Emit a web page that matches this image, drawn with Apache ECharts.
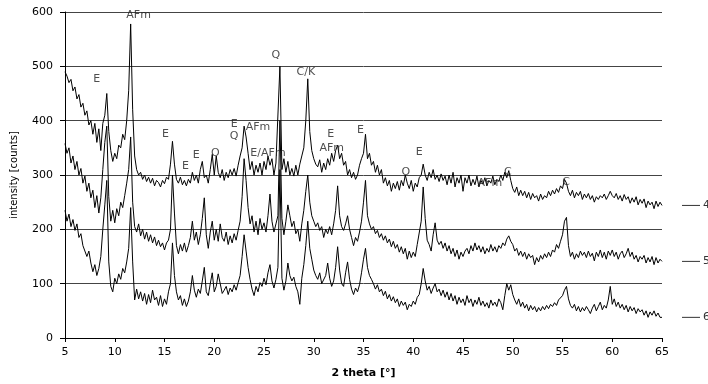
<!DOCTYPE html>
<html>
<head>
<meta charset="utf-8">
<script src="https://cdn.jsdelivr.net/npm/echarts@6/dist/echarts.min.js"></script>
<style>
  html, body { margin: 0; padding: 0; background: #fff; }
  #chart { width: 708px; height: 384px; }
</style>
</head>
<body>
<div id="chart"></div>
<script>
// measured in 0.2 degree steps from 5 to 65 (2 theta)
const stepStart = 5;
const stepSize = 0.2;

// sample 4 (top trace)
const sample4 = [
  490, 482, 470, 476, 455, 462, 440, 448, 425, 432,
  410, 418, 392, 400, 375, 395, 360, 385, 345, 395,
  410, 450, 380, 345, 325, 340, 330, 355, 350, 375,
  365, 400, 455, 578, 420, 335, 310, 300, 305, 292,
  300, 288, 296, 285, 294, 280, 290, 286, 278, 290,
  284, 296, 292, 320, 362, 320, 292, 285, 296, 282,
  290, 280, 292, 285, 305, 290, 300, 285, 310, 325,
  295, 300, 285, 310, 338, 300, 335, 305, 295, 310,
  290, 305, 295, 310, 300, 312, 298, 318, 335, 350,
  390, 370, 340, 310, 325, 300, 318, 305, 322, 300,
  325, 310, 335, 318, 330, 300, 322, 320, 500, 310,
  330, 305, 325, 300, 312, 298, 318, 300, 320, 335,
  350, 400, 477, 380, 345, 330, 320, 315, 328, 305,
  322, 310, 330, 318, 340, 325, 345, 355, 330, 340,
  318, 325, 300, 310, 295, 305, 292, 300, 318, 330,
  340, 375, 330, 340, 318, 325, 305, 318, 300, 310,
  285, 295, 280, 290, 270, 285, 275, 288, 272, 290,
  280, 300, 285, 275, 290, 270, 285, 278, 295, 300,
  320, 300, 290, 305, 295, 310, 292, 300, 288, 302,
  290, 298, 282, 300, 285, 305, 278, 295, 285, 300,
  270, 295, 285, 300, 280, 292, 282, 298, 278, 290,
  283, 295, 280, 290, 285, 298, 282, 292, 288, 300,
  290, 305, 295, 308, 290, 275, 268, 278, 262, 272,
  262, 270, 258, 268, 255, 266, 258, 262, 252, 265,
  255, 262, 258, 270, 262, 272, 265, 275, 268, 280,
  275, 292, 285, 270, 262, 272, 258, 268, 262, 270,
  255, 265, 258, 266, 255, 262, 250, 260, 255, 262,
  258, 265, 255, 262, 270, 262, 258, 266, 255, 262,
  252, 264, 255, 260, 248, 258, 250, 260, 245, 255,
  248, 256, 240, 252, 245, 250, 238, 252, 242, 250,
  244
];

// sample 5 (middle trace)
const sample5 = [
  358, 340, 350, 322, 335, 310, 325, 300, 312, 285,
  298, 270, 285, 258, 272, 240, 262, 230, 258, 310,
  360, 390, 260, 215, 235, 212, 238, 225, 250, 240,
  262, 285, 310, 370, 250, 205, 195, 210, 188, 200,
  182, 195, 178, 190, 175, 186, 170, 180, 168, 175,
  162, 175, 180, 200, 300, 230, 170, 155, 172, 160,
  175, 158, 170, 185, 215, 180, 195, 172, 190, 220,
  258, 190, 165, 195, 215, 180, 200, 178, 210, 185,
  178, 195, 172, 188, 175, 192, 180, 198, 215, 260,
  330, 290, 240, 210, 225, 195, 215, 190, 220, 200,
  212, 195, 225, 265, 215, 195, 210, 225, 400, 220,
  190, 215, 245, 225, 205, 215, 192, 200, 178, 210,
  235, 270, 300, 250, 225, 215, 205, 212, 198, 205,
  185, 200, 192, 205, 190, 210, 235, 280, 225, 205,
  198, 210, 225, 200, 185, 170, 185, 178, 195, 215,
  250, 290, 225, 210, 200, 205, 192, 198, 185, 192,
  180, 188, 175, 182, 168, 178, 165, 172, 158, 168,
  155, 165, 145, 160, 148, 158, 150, 172, 175, 215,
  278, 220, 180, 172, 160, 190, 212, 180, 172, 178,
  165, 175, 160, 170, 155, 165, 150, 162, 145, 158,
  150, 160, 165, 155, 170, 160, 175, 162, 170, 158,
  168, 155, 165, 158, 172, 160, 168, 158, 170, 165,
  175, 170, 182, 188, 178, 172, 160, 165, 152, 160,
  150, 158, 145, 155, 148, 152, 135, 148, 140, 152,
  145, 155, 148, 158, 150, 162, 158, 172, 165, 178,
  190, 215, 222, 170, 150, 158, 145, 155, 148, 160,
  152, 158, 148, 160, 150, 156, 142, 158, 150, 162,
  148, 158, 145, 160, 152, 162, 150, 158, 145, 155,
  160, 148, 155, 165, 150, 158, 145, 152, 140, 150,
  145, 152, 138, 148, 140, 150, 135, 148, 138, 145,
  141
];

// sample 6 (bottom trace)
const sample6 = [
  235, 215, 228, 205, 218, 198, 210, 185, 192, 170,
  172, 150, 160, 138, 122, 135, 115, 128, 150, 200,
  245, 290, 140, 95, 85, 110, 100, 118, 108, 128,
  120, 140, 165, 240, 140, 70, 90, 72, 85, 68,
  82, 62, 80, 65, 88, 70, 75, 60, 78, 58,
  72, 62, 85, 100, 175, 115, 85, 70, 78, 60,
  72, 58, 68, 85, 115, 88, 75, 90, 82, 105,
  130, 85, 78, 100, 120, 85, 95, 118, 100, 82,
  88, 95, 80, 92, 85, 98, 88, 102, 115, 150,
  190, 160, 130, 108, 90, 78, 95, 85, 102, 95,
  110, 98, 120, 135, 105, 92, 108, 130, 310, 110,
  88, 105, 138, 115, 105, 112, 95, 85, 62, 110,
  135, 170, 215, 165, 145, 125, 115, 108, 120, 100,
  98, 115, 138, 110, 95, 105, 130, 168, 125, 100,
  95, 120, 140, 108, 90, 80, 92, 85, 98, 120,
  145, 165, 130, 115, 108, 100, 90, 98, 85, 90,
  78, 86, 72, 80, 68, 76, 65, 72, 58, 68,
  60, 66, 52, 62, 58, 68, 62, 75, 80, 100,
  128, 105, 88, 95, 82, 92, 100, 85, 90, 78,
  88, 75, 85, 70, 82, 68, 78, 62, 75, 65,
  72, 60, 78, 65, 72, 58, 70, 62, 75, 60,
  68, 58, 65, 55, 70, 60, 66, 58, 72, 65,
  52, 78, 100, 88, 98, 80, 70, 62, 72, 58,
  66, 55, 62, 50, 60, 52, 58, 48, 56, 50,
  58, 52, 60, 54, 62, 58, 65, 60, 70, 68,
  78, 88, 95, 72, 60, 55, 62, 50, 58, 48,
  56, 50, 58, 52, 45, 55, 62, 50, 58, 66,
  52, 60, 55, 70, 95, 62, 72, 58, 66, 55,
  62, 52, 60, 48, 58, 50, 56, 45, 54, 48,
  52, 42, 50, 38, 48, 42, 50, 40, 46, 38,
  38
];

const sampleNames = ['4', '5', '6'];

// phase labels written on the plot
const annText = ['AFm', 'E', 'E', 'E', 'E', 'O', 'E', 'AFm', 'Q', 'E/AFm', 'Q', 'C/K',
                 'E', 'AFm', 'E', 'O', 'E', 'AFm', 'C', 'C'];
const annX = [12.4, 8.2, 15.1, 17.1, 18.2, 20.1, 22.0, 24.4, 22.0, 25.4, 26.2, 29.2,
              31.7, 31.8, 34.7, 39.25, 40.6, 47.7, 49.5, 55.35];
const annY = [595, 477, 376, 316, 336, 341, 394, 389, 371, 341, 520, 490,
              376, 349, 383, 305, 342, 285, 305, 287];

const theta = sample4.map((_, i) => +(stepStart + i * stepSize).toFixed(1));

const font = 'DejaVu Sans';

function traceSeries(name, values) {
    return {
        name: name,
        type: 'line',
        data: values.map((v, i) => [theta[i], v]),
        showSymbol: false,
        symbol: 'none',
        lineStyle: { color: '#000', width: 1 },
        endLabel: {
            show: true,
            distance: 20,
            formatter: '{d|}{n|' + name + '}',
            color: '#333',
            fontFamily: font,
            fontSize: 11,
            rich: {
                d: { width: 18, height: 1, backgroundColor: '#333' },
                n: { padding: [0, 0, 0, 3], fontFamily: font, fontSize: 11, color: '#333' }
            }
        },
        z: 2
    };
}

const chart = echarts.init(document.getElementById('chart'), null, { renderer: 'canvas' });

chart.setOption({
    animation: false,
    backgroundColor: '#fff',
    grid: { left: 65, right: 46, top: 12, bottom: 46 },
    xAxis: {
        type: 'value',
        min: 5,
        max: 65,
        interval: 5,
        name: '2 theta [°]',
        nameLocation: 'middle',
        nameGap: 30,
        nameTextStyle: { fontFamily: font, fontSize: 11, fontWeight: 'bold', color: '#000' },
        axisLine: { lineStyle: { color: '#000', width: 1 } },
        axisTick: { show: true, length: 4, lineStyle: { color: '#000' } },
        axisLabel: { fontFamily: font, fontSize: 11, color: '#000', margin: 9 },
        splitLine: { show: false }
    },
    yAxis: {
        type: 'value',
        min: 0,
        max: 600,
        interval: 100,
        name: 'intensity [counts]',
        nameLocation: 'middle',
        nameGap: 46,
        nameTextStyle: { fontFamily: font, fontSize: 10, color: '#000' },
        axisLine: { show: true, lineStyle: { color: '#000', width: 1 } },
        axisTick: { show: true, length: 5, lineStyle: { color: '#000' } },
        axisLabel: { fontFamily: font, fontSize: 11, color: '#000', margin: 12 },
        splitLine: { show: true, lineStyle: { color: '#444', width: 1 } }
    },
    series: [
        traceSeries(sampleNames[0], sample4),
        traceSeries(sampleNames[1], sample5),
        traceSeries(sampleNames[2], sample6),
        {
            type: 'scatter',
            data: annText.map((t, i) => ({ name: t, value: [annX[i], annY[i]] })),
            symbolSize: 1,
            itemStyle: { color: 'rgba(0,0,0,0)' },
            silent: true,
            label: {
                show: true,
                position: 'inside',
                formatter: '{b}',
                fontFamily: font,
                fontSize: 11,
                color: '#222'
            },
            z: 3
        }
    ]
});
</script>
</body>
</html>
